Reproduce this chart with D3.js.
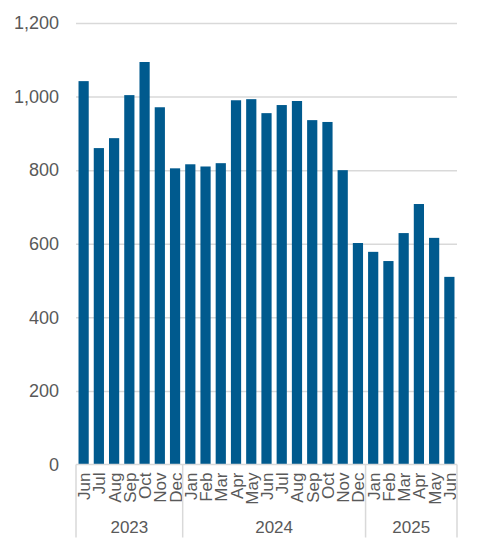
<!DOCTYPE html>
<html>
<head>
<meta charset="utf-8">
<script src="https://cdn.jsdelivr.net/npm/d3@7"></script>
<style>
  body { margin: 0; background: #fff; }
  text { font-family: 'Liberation Sans', Arial, sans-serif; fill: #595959; }
</style>
</head>
<body>
<div class="chart-container"></div>
<script>
const w = 479,
      h = 548;

const margin = { top: 23, right: 22, bottom: 84, left: 76 };

const months = ['Jun', 'Jul', 'Aug', 'Sep', 'Oct', 'Nov', 'Dec',
  'Jan', 'Feb', 'Mar', 'Apr', 'May', 'Jun', 'Jul', 'Aug', 'Sep', 'Oct', 'Nov', 'Dec',
  'Jan', 'Feb', 'Mar', 'Apr', 'May', 'Jun'];
const years = [2023, 2023, 2023, 2023, 2023, 2023, 2023,
  2024, 2024, 2024, 2024, 2024, 2024, 2024, 2024, 2024, 2024, 2024, 2024,
  2025, 2025, 2025, 2025, 2025, 2025];
const values = [1042, 860, 887, 1004, 1094, 971, 805,
  816, 810, 819, 990, 993, 955, 977, 988, 936, 931, 800, 602,
  578, 553, 629, 708, 616, 510];
const yTicks = [0, 200, 400, 600, 800, 1000, 1200];

const barColor = '#005a8e';
const gridColor = '#d9d9d9';

const svg = d3
  .select('.chart-container')
  .append('svg')
  .attr('width', w)
  .attr('height', h);

const xScale = d3.scaleBand()
  .domain(d3.range(values.length))
  .range([margin.left, w - margin.right])
  .paddingInner(0.33)
  .paddingOuter(0.165);

const yScale = d3.scaleLinear()
  .domain([0, 1200])
  .range([h - margin.bottom + 0.5, margin.top]);

// gridlines + y labels
const yAxis = d3.axisLeft(yScale)
  .tickValues(yTicks)
  .tickFormat(d3.format(','))
  .tickSize(-(w - margin.left - margin.right))
  .tickPadding(17);

svg.append('g')
  .attr('id', 'y-axis')
  .attr('transform', `translate(${margin.left}, 0)`)
  .call(yAxis)
  .call(g => g.select('.domain').remove())
  .call(g => g.selectAll('line')
    .attr('stroke', gridColor)
    .attr('stroke-width', 1.5)
    .attr('display', d => d === 0 ? 'none' : null))
  .call(g => g.selectAll('text')
    .style('font-size', '18px')
    .attr('fill', '#595959'));

svg.selectAll('.bar')
  .data(values)
  .enter()
  .append('rect')
  .attr('class', 'bar')
  .attr('x', (d, i) => xScale(i))
  .attr('y', d => yScale(d))
  .attr('width', xScale.bandwidth())
  .attr('height', d => yScale(0) - yScale(d))
  .style('fill', barColor);

// category axis (two levels)
const y0 = yScale(0);
const gap = (xScale.step() - xScale.bandwidth()) / 2;

svg.append('line')
  .attr('x1', margin.left)
  .attr('x2', w - margin.right)
  .attr('y1', y0)
  .attr('y2', y0)
  .attr('stroke', gridColor)
  .attr('stroke-width', 1.5);

svg.selectAll('.month-label')
  .data(months)
  .enter()
  .append('text')
  .attr('class', 'month-label')
  .attr('transform', (d, i) =>
    `translate(${xScale(i) + xScale.bandwidth() / 2 + 6.5}, ${y0 + 8}) rotate(-90)`)
  .style('font-size', '17px')
  .style('text-anchor', 'end')
  .text(d => d);

const yearGroups = d3.groups(years.map((y, i) => ({ y, i })), d => d.y);
const bounds = [margin.left];
yearGroups.forEach(([, items], k) => {
  if (k > 0) bounds.push(xScale(items[0].i) - gap);
});
bounds.push(w - margin.right);

svg.selectAll('.sep')
  .data(bounds)
  .enter()
  .append('line')
  .attr('class', 'sep')
  .attr('x1', d => d)
  .attr('x2', d => d)
  .attr('y1', y0)
  .attr('y2', y0 + 73)
  .attr('stroke', gridColor)
  .attr('stroke-width', 1.5);

svg.selectAll('.year-label')
  .data(yearGroups)
  .enter()
  .append('text')
  .attr('class', 'year-label')
  .attr('x', (d, k) => (bounds[k] + bounds[k + 1]) / 2)
  .attr('y', y0 + 68)
  .style('font-size', '17px')
  .style('text-anchor', 'middle')
  .text(d => d[0]);
</script>
</body>
</html>
